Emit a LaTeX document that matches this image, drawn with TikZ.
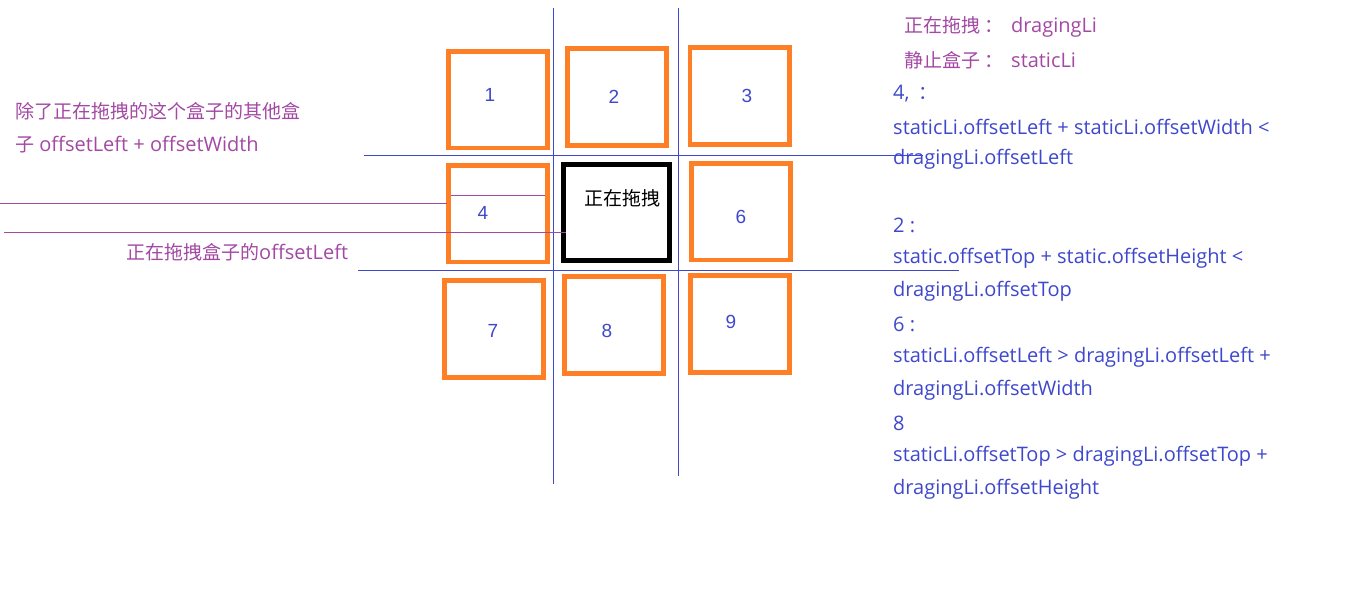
\documentclass[tikz,border=0pt]{standalone}
\usepackage{fontspec}
\setmainfont{Open Sans}
\newfontfamily\zhfont{Noto Sans CJK SC}
\newfontfamily\numfont{Liberation Sans}
\newcommand\zh[1]{{\zhfont\fontsize{19}{22}\selectfont #1}}
\definecolor{porange}{RGB}{255,127,39}
\definecolor{pblue}{RGB}{63,72,204}
\definecolor{ppurple}{RGB}{163,73,164}
\tikzset{
  obox/.style={draw=porange,line width=4.7pt,rectangle,inner sep=0pt},
  dbox/.style={draw=black,line width=5pt,rectangle,inner sep=0pt},
  num/.style={text=pblue,font=\numfont\fontsize{19}{22}\selectfont,inner sep=0pt},
  btxt/.style={text=pblue,font=\fontsize{20}{24}\selectfont,inner sep=0pt,anchor=west},
  ptxt/.style={text=ppurple,font=\fontsize{20}{24}\selectfont,inner sep=0pt,anchor=west},
  bline/.style={draw=pblue,line width=1pt},
  pline/.style={draw=ppurple,line width=1pt}
}
\begin{document}
\begin{tikzpicture}[x=1pt,y=-1pt]
\useasboundingbox[fill=white] (0,0) rectangle (1360,591);
% grid lines
\coordinate (v1a) at (553,8); \coordinate (v1b) at (553,484);
\coordinate (v2a) at (678,8); \coordinate (v2b) at (678,476);
\coordinate (h1a) at (364,156); \coordinate (h1b) at (923,156);
\coordinate (h2a) at (358,270); \coordinate (h2b) at (959,270);
\draw[bline] (v1a) -- (v1b);
\draw[bline] (v2a) -- (v2b);
% boxes
\node[obox,minimum width=99pt,minimum height=96.5pt] (b1) at (498,99.75) {};
\node[obox,minimum width=99pt,minimum height=97pt] (b2) at (617,97) {};
\node[obox,minimum width=99.5pt,minimum height=97pt] (b3) at (739.75,96) {};
\node[obox,minimum width=99pt,minimum height=96.5pt] (b4) at (498,213.75) {};
\node[dbox,minimum width=106pt,minimum height=95.5pt] (b5) at (616.5,212.25) {};
\node[obox,minimum width=99pt,minimum height=96.5pt] (b6) at (741,211.75) {};
\node[obox,minimum width=99pt,minimum height=97pt] (b7) at (494,329) {};
\node[obox,minimum width=99pt,minimum height=97pt] (b8) at (614,325) {};
\node[obox,minimum width=99pt,minimum height=97pt] (b9) at (740,324) {};
\draw[bline] (h1a) -- (h1b);
\draw[bline] (h2a) -- (h2b);
% numbers
\node[num] (n1) at (490,95) {1};
\node[num] (n2) at (614,97) {2};
\node[num] (n3) at (747,96) {3};
\node[num] (n4) at (483,213) {4};
\node[num] (n6) at (741,217) {6};
\node[num] (n7) at (493,331) {7};
\node[num] (n8) at (607,331) {8};
\node[num] (n9) at (731,322) {9};
\node[inner sep=0pt] (drag) at (622,198) {\zh{正在拖拽}};
% purple lines
\coordinate (p1a) at (0,203); \coordinate (p1b) at (447,203);
\coordinate (p2a) at (451,195); \coordinate (p2b) at (545,195);
\coordinate (p3a) at (4,232); \coordinate (p3b) at (566,232);
\draw[pline] (p1a) -- (p1b);
\draw[pline] (p2a) -- (p2b);
\draw[pline] (p3a) -- (p3b);
% left texts
\node[ptxt] (l1) at (15,111) {\zh{除了正在拖拽的这个盒子的其他盒}};
\node[ptxt] (l2) at (15,145) {\zh{子} offsetLeft + offsetWidth};
\node[ptxt] (l3) at (126,252) {\zh{正在拖拽盒子的}offsetLeft};
% right texts
\node[ptxt] (r1) at (904,27) {\zh{正在拖拽}\hspace{4pt}\zh{：}\hspace{8pt}dragingLi};
\node[ptxt] (r2) at (904,60) {\zh{静止盒子}\hspace{4pt}\zh{：}\hspace{8pt}staticLi};
\node[btxt] (r3) at (893,94) {4,\hspace{9pt}\zh{：}};
\node[btxt] (r4) at (893,127) {staticLi.offsetLeft + staticLi.offsetWidth <};
\node[btxt] (r5) at (893,159) {dragingLi.offsetLeft};
\node[btxt] (r6) at (893,225) {2 :};
\node[btxt] (r7) at (893,258) {static.offsetTop + static.offsetHeight <};
\node[btxt] (r8) at (893,291) {dragingLi.offsetTop};
\node[btxt] (r9) at (893,324) {6 :};
\node[btxt] (r10) at (893,357) {staticLi.offsetLeft > dragingLi.offsetLeft +};
\node[btxt] (r11) at (893,390) {dragingLi.offsetWidth};
\node[btxt] (r12) at (893,423) {8};
\node[btxt] (r13) at (893,456) {staticLi.offsetTop > dragingLi.offsetTop +};
\node[btxt] (r14) at (893,489) {dragingLi.offsetHeight};
\end{tikzpicture}
\end{document}
